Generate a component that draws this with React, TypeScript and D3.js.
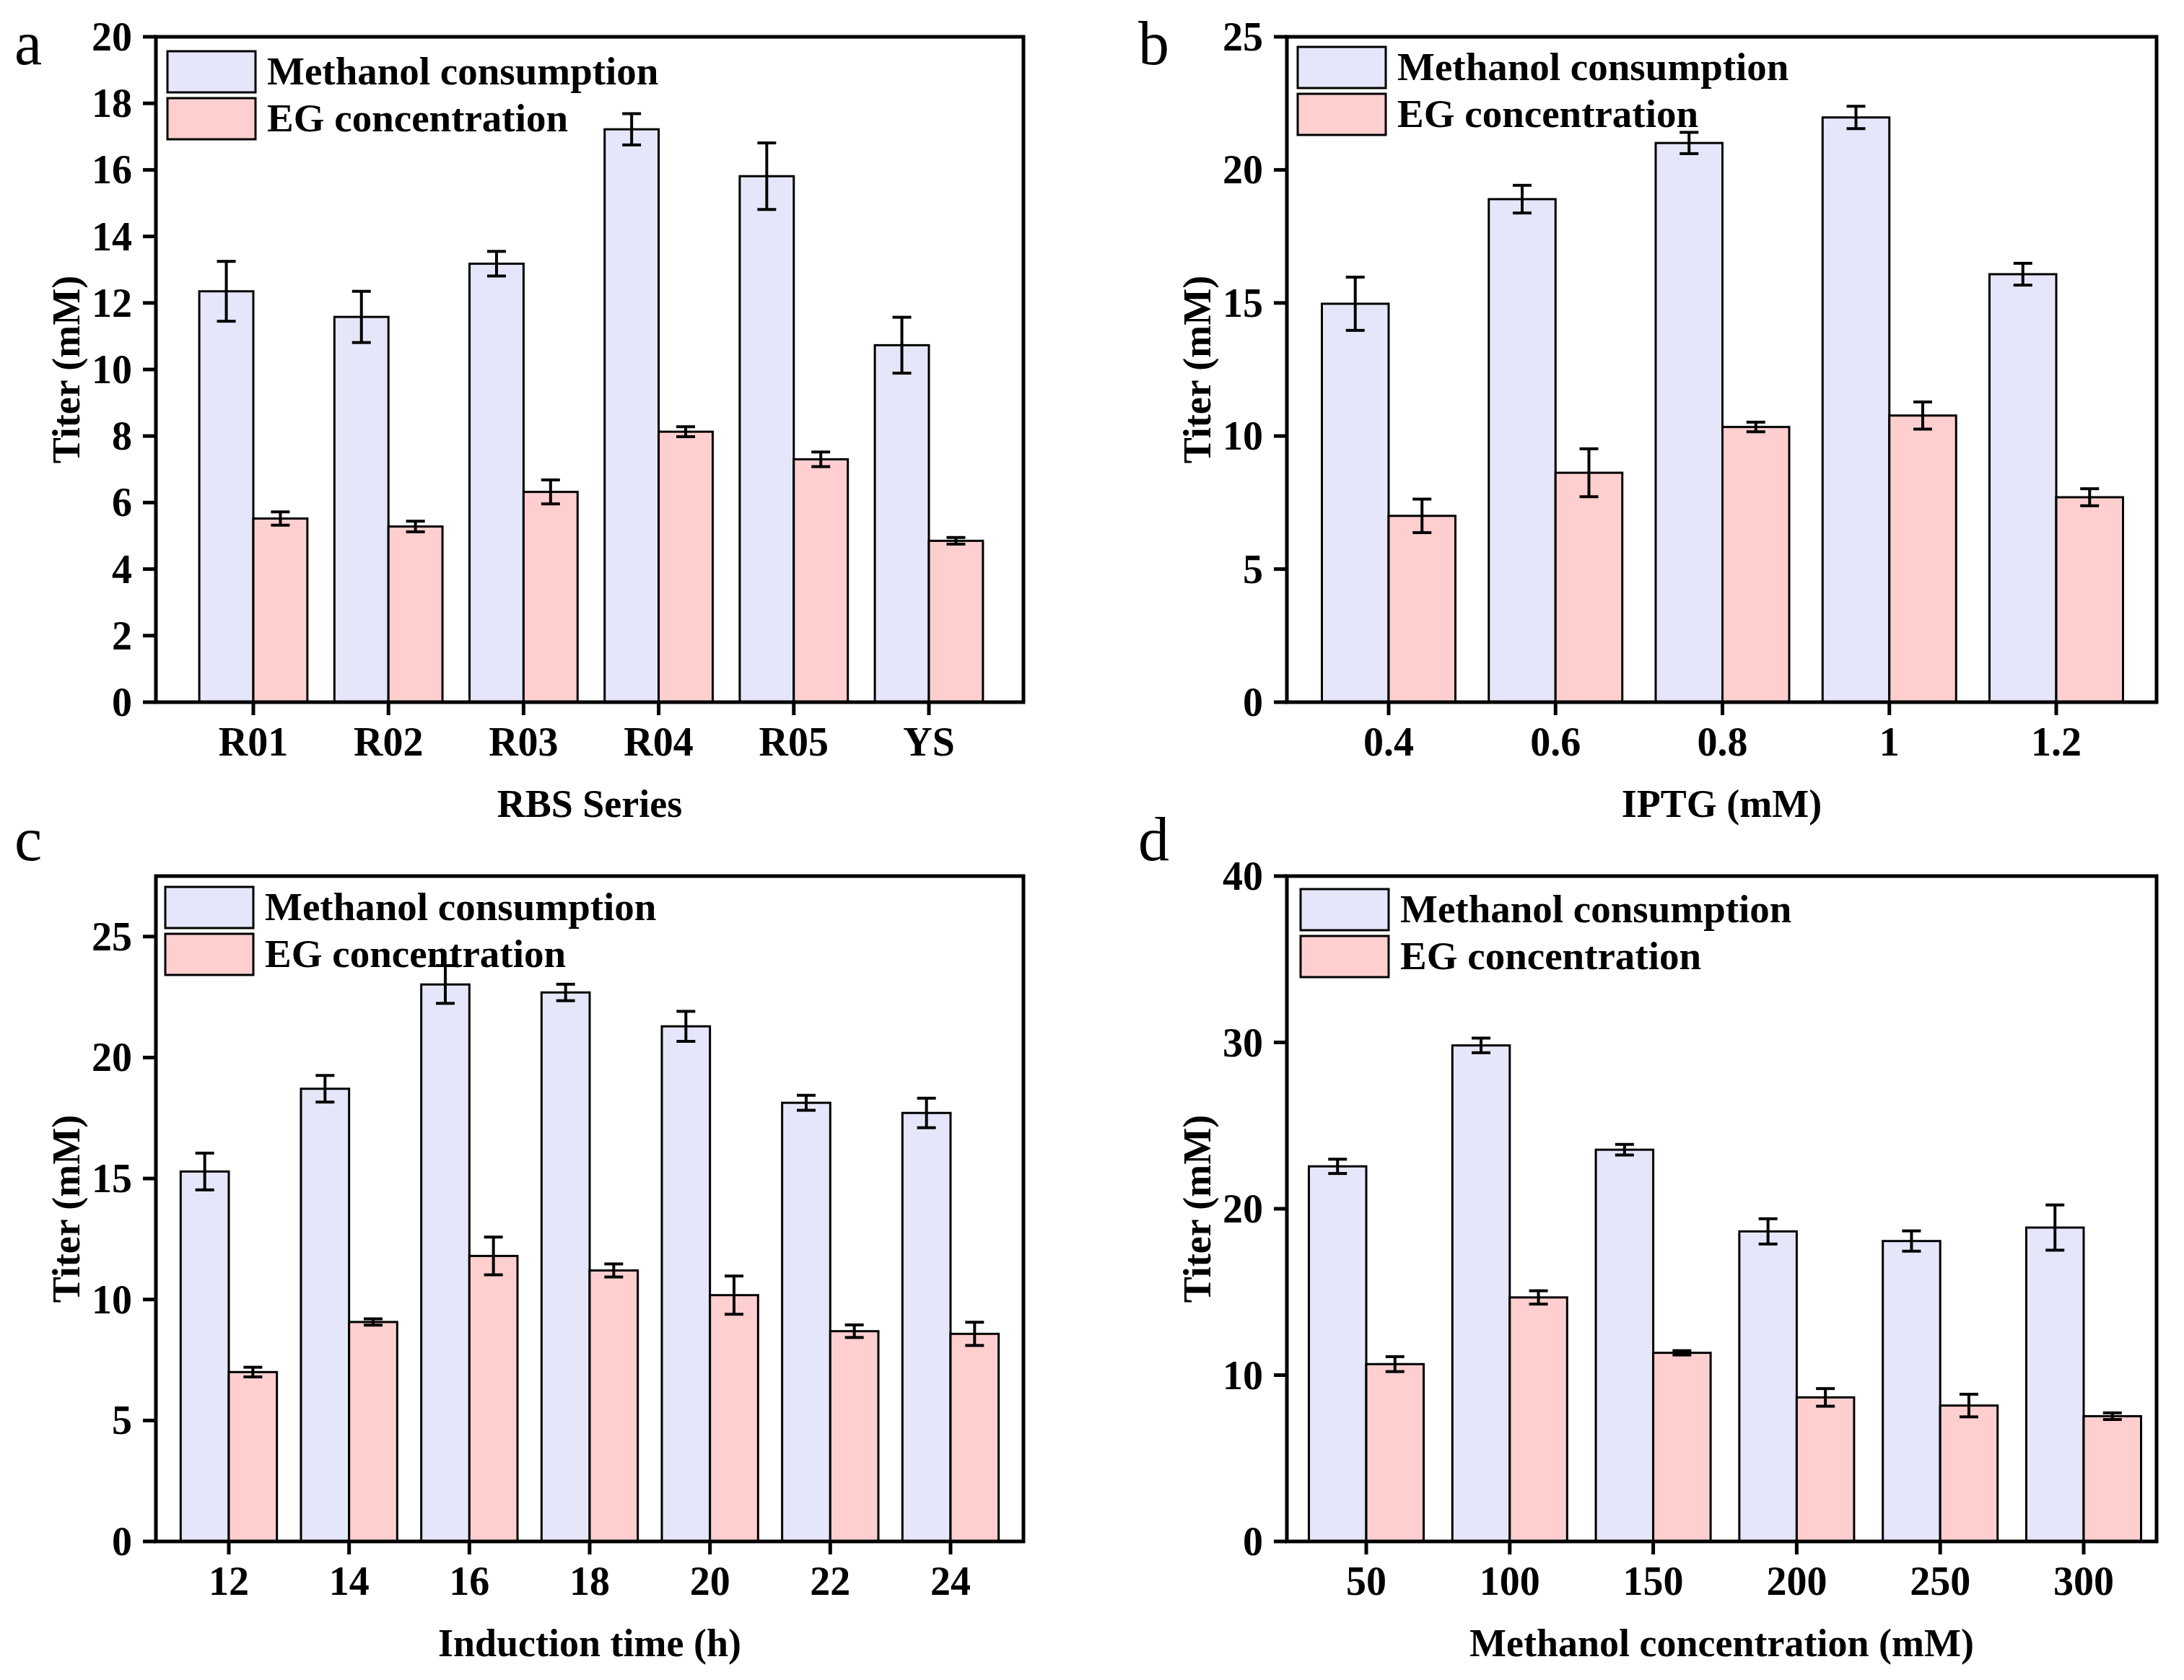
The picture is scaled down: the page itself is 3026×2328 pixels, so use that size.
import React from "react";
import * as d3 from "d3";

// ---------- data ----------
const catsA = ["R01", "R02", "R03", "R04", "R05", "YS"];
const methA = [12.35, 11.58, 13.18, 17.22, 15.81, 10.73];
const methErrA = [0.9, 0.77, 0.37, 0.47, 1.0, 0.84];
const egA = [5.52, 5.28, 6.32, 8.13, 7.3, 4.85];
const egErrA = [0.2, 0.16, 0.36, 0.15, 0.22, 0.1];

const catsB = ["0.4", "0.6", "0.8", "1", "1.2"];
const methB = [14.97, 18.9, 21.01, 21.97, 16.08];
const methErrB = [1.0, 0.52, 0.4, 0.42, 0.41];
const egB = [7.0, 8.62, 10.34, 10.77, 7.7];
const egErrB = [0.63, 0.9, 0.18, 0.51, 0.32];

const catsC = ["12", "14", "16", "18", "20", "22", "24"];
const methC = [15.29, 18.71, 23.02, 22.69, 21.29, 18.13, 17.71];
const methErrC = [0.76, 0.55, 0.78, 0.34, 0.62, 0.31, 0.61];
const egC = [7.0, 9.07, 11.8, 11.2, 10.18, 8.69, 8.58];
const egErrC = [0.2, 0.13, 0.78, 0.27, 0.79, 0.26, 0.48];

const catsD = ["50", "100", "150", "200", "250", "300"];
const methD = [22.55, 29.82, 23.55, 18.64, 18.06, 18.87];
const methErrD = [0.43, 0.44, 0.32, 0.76, 0.61, 1.36];
const egD = [10.66, 14.67, 11.34, 8.66, 8.17, 7.53];
const egErrD = [0.45, 0.4, 0.13, 0.53, 0.68, 0.2];

const yTicksA = [0, 2, 4, 6, 8, 10, 12, 14, 16, 18, 20];
const yTicksB = [0, 5, 10, 15, 20, 25];
const yTicksC = [0, 5, 10, 15, 20, 25];
const yTicksD = [0, 10, 20, 30, 40];

const seriesNames = ["Methanol consumption", "EG concentration"];
const COLORS = ["#E6E6FA", "#FFCFCF"];

const FONT = "'Liberation Serif', 'Times New Roman', serif";

type PanelProps = {
  letter: string;
  left: number;
  right: number;
  top: number;
  bottom: number;
  padL: number;
  padR: number;
  yMax: number;
  yTicks: number[];
  cats: string[];
  meth: number[];
  methErr: number[];
  eg: number[];
  egErr: number[];
  xTitle: string;
  letterX: number;
  letterY: number;
  legDx: number;
  legDy: number;
};

function Panel(p: PanelProps) {
  const y = d3.scaleLinear().domain([0, p.yMax]).range([p.bottom, p.top]);
  const x = d3
    .scalePoint<string>()
    .domain(p.cats)
    .range([p.left + p.padL, p.right - p.padR]);
  const step = x.step();
  const bw = step * 0.4;
  const cap = 26;
  const tickLen = 18;

  const errBar = (cx: number, v: number, e: number, key: string) => (
    <g key={key} stroke="#000" strokeWidth={4}>
      <line x1={cx} x2={cx} y1={y(v + e)} y2={y(v - e)} />
      <line x1={cx - cap / 2} x2={cx + cap / 2} y1={y(v + e)} y2={y(v + e)} />
      <line x1={cx - cap / 2} x2={cx + cap / 2} y1={y(v - e)} y2={y(v - e)} />
    </g>
  );

  const lx = p.left + p.legDx;
  const ly = p.top + p.legDy;

  return (
    <g fontFamily={FONT}>
      <text x={p.letterX} y={p.letterY} fontSize={86} fill="#000">
        {p.letter}
      </text>
      {/* bars */}
      {p.cats.map((c, i) => {
        const cx = x(c) as number;
        return (
          <g key={"b" + c}>
            <rect
              x={cx - bw}
              y={y(p.meth[i])}
              width={bw}
              height={y(0) - y(p.meth[i])}
              fill={COLORS[0]}
              stroke="#000"
              strokeWidth={3}
            />
            <rect
              x={cx}
              y={y(p.eg[i])}
              width={bw}
              height={y(0) - y(p.eg[i])}
              fill={COLORS[1]}
              stroke="#000"
              strokeWidth={3}
            />
          </g>
        );
      })}
      {/* legend */}
      {seriesNames.map((s, i) => (
        <g key={s}>
          <rect
            x={lx}
            y={ly + i * 65}
            width={122}
            height={57}
            fill={COLORS[i]}
            stroke="#000"
            strokeWidth={3}
          />
          <text
            x={lx + 138}
            y={ly + i * 65 + 46}
            fontSize={55}
            fontWeight="bold"
            fill="#000"
          >
            {s}
          </text>
        </g>
      ))}
      {/* error bars */}
      {p.cats.map((c, i) => {
        const cx = x(c) as number;
        return (
          <g key={"e" + c}>
            {errBar(cx - bw / 2, p.meth[i], p.methErr[i], "m")}
            {errBar(cx + bw / 2, p.eg[i], p.egErr[i], "g")}
          </g>
        );
      })}
      {/* frame */}
      <rect
        x={p.left}
        y={p.top}
        width={p.right - p.left}
        height={p.bottom - p.top}
        fill="none"
        stroke="#000"
        strokeWidth={5}
      />
      {/* y ticks */}
      {p.yTicks.map((t) => (
        <g key={"y" + t}>
          <line
            x1={p.left - tickLen}
            x2={p.left}
            y1={y(t)}
            y2={y(t)}
            stroke="#000"
            strokeWidth={5}
          />
          <text
            x={p.left - 33}
            y={y(t)}
            dy="0.34em"
            textAnchor="end"
            fontSize={56}
            fontWeight="bold"
            fill="#000"
          >
            {t}
          </text>
        </g>
      ))}
      {/* x ticks */}
      {p.cats.map((c) => {
        const cx = x(c) as number;
        return (
          <g key={"x" + c}>
            <line
              x1={cx}
              x2={cx}
              y1={p.bottom}
              y2={p.bottom + tickLen}
              stroke="#000"
              strokeWidth={5}
            />
            <text
              x={cx}
              y={p.bottom + 74}
              textAnchor="middle"
              fontSize={56}
              fontWeight="bold"
              fill="#000"
            >
              {c}
            </text>
          </g>
        );
      })}
      {/* axis titles */}
      <text
        x={(p.left + p.right) / 2}
        y={p.bottom + 159}
        textAnchor="middle"
        fontSize={54}
        fontWeight="bold"
        fill="#000"
      >
        {p.xTitle}
      </text>
      <text
        transform={`translate(${p.left - 106},${(p.top + p.bottom) / 2}) rotate(-90)`}
        textAnchor="middle"
        fontSize={54}
        fontWeight="bold"
        fill="#000"
      >
        Titer (mM)
      </text>
    </g>
  );
}

export default function App() {
  return (
    <svg
      width={3026}
      height={2328}
      viewBox="0 0 3026 2328"
      style={{ position: "absolute", left: 0, top: 0, display: "block", background: "#fff" }}
    >
      <rect x={0} y={0} width={3026} height={2328} fill="#fff" />
      <Panel
        letter="a"
        left={216}
        right={1418}
        top={51}
        bottom={973}
        padL={135}
        padR={131}
        yMax={20}
        yTicks={yTicksA}
        cats={catsA}
        meth={methA}
        methErr={methErrA}
        eg={egA}
        egErr={egErrA}
        xTitle="RBS Series"
        letterX={20}
        letterY={89}
        legDx={16}
        legDy={20}
      />
      <Panel
        letter="b"
        left={1783}
        right={2988}
        top={51}
        bottom={973}
        padL={141}
        padR={139}
        yMax={25}
        yTicks={yTicksB}
        cats={catsB}
        meth={methB}
        methErr={methErrB}
        eg={egB}
        egErr={egErrB}
        xTitle="IPTG (mM)"
        letterX={1577}
        letterY={89}
        legDx={15}
        legDy={14}
      />
      <Panel
        letter="c"
        left={216}
        right={1418}
        top={1214}
        bottom={2136}
        padL={101}
        padR={101}
        yMax={27.5}
        yTicks={yTicksC}
        cats={catsC}
        meth={methC}
        methErr={methErrC}
        eg={egC}
        egErr={egErrC}
        xTitle="Induction time (h)"
        letterX={20}
        letterY={1192}
        legDx={13}
        legDy={15}
      />
      <Panel
        letter="d"
        left={1783}
        right={2988}
        top={1214}
        bottom={2136}
        padL={110}
        padR={101}
        yMax={40}
        yTicks={yTicksD}
        cats={catsD}
        meth={methD}
        methErr={methErrD}
        eg={egD}
        egErr={egErrD}
        xTitle="Methanol concentration (mM)"
        letterX={1577}
        letterY={1192}
        legDx={19}
        legDy={18}
      />
    </svg>
  );
}
